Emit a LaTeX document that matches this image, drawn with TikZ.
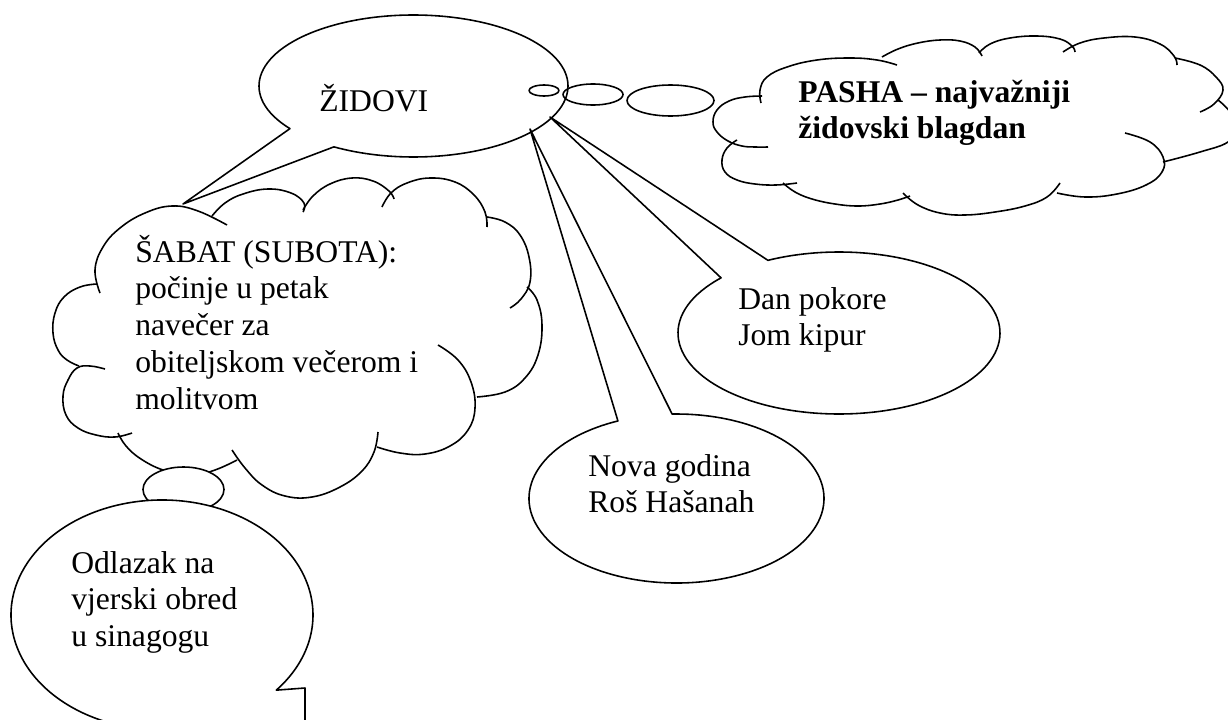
\documentclass[tikz,border=0pt]{standalone}
\usepackage{fontspec}
\setmainfont{Liberation Serif}
\newcommand{\mlines}[1]{\begin{tabular}[t]{@{}l@{}}#1\end{tabular}}
\begin{document}
\begin{tikzpicture}[x=0.02cm,y=-0.02cm,
  lineart/.style={line width=0.9pt,line join=round},
  bumpy/.style={lineart},
  txt/.style={anchor=base west,inner sep=0pt,font=\fontsize{18pt}{21.05pt}\selectfont},
  txtb/.style={anchor=base west,inner sep=0pt,font=\fontsize{18pt}{21.05pt}\selectfont\bfseries}]
\useasboundingbox (0,0) rectangle (1228,720);
\clip (0,0) rectangle (1228,720);

\coordinate (Zc) at (413.5,86);
\coordinate (Ztip) at (183,204);
\coordinate (A1) at (550,117);
\coordinate (A2) at (530,129);
\coordinate (Dc) at (839,333);
\coordinate (Nc) at (676.5,498.5);
\coordinate (Oc) at (162,615);
\coordinate (Ocorner) at (305,688);
\coordinate (Otip) at (305,800);
\coordinate (S) at (183.5,489.5);
\coordinate (t1) at (544,90.5);
\coordinate (t2) at (593,94.5);
\coordinate (t3) at (670.5,100.5);

% --- SABAT cloud ---
\draw[bumpy] plot[smooth,tension=0.7] coordinates {(100,293) (95,270) (103,247) (120,228) (145,213) (172,206) (198,211) (227,225)};
\draw[bumpy] plot[smooth,tension=0.7] coordinates {(212,216) (225,203) (243,194) (268,189) (291,193) (304,203) (303,212)};
\draw[bumpy] plot[smooth,tension=0.7] coordinates {(303,210) (313,196) (330,184) (352,178) (373,181) (389,191) (394,199)};
\draw[bumpy] plot[smooth,tension=0.7] coordinates {(382,207) (391,193) (407,183) (430,178) (455,182) (474,195) (485,212) (487,227)};
\draw[bumpy] plot[smooth,tension=0.7] coordinates {(487,217) (505,222) (520,235) (529,257) (530,282) (521,299) (510,308)};
\draw[bumpy] plot[smooth,tension=0.7] coordinates {(527,287) (537,300) (542,325) (538,355) (525,378) (505,392) (477,397)};
\draw[bumpy] plot[smooth,tension=0.7] coordinates {(438,345) (458,360) (471,382) (475,408) (468,430) (450,446) (425,454) (400,453) (377,447)};
\draw[bumpy] plot[smooth,tension=0.7] coordinates {(378,432) (374,452) (362,471) (340,487) (312,497) (285,496) (262,485) (245,468) (232,450)};
\draw[bumpy] plot[smooth,tension=0.7] coordinates {(118,433) (126,446) (141,459) (163,470) (190,476) (215,470) (237,460)};
\draw[bumpy] plot[smooth,tension=0.7] coordinates {(105,369) (90,366) (77,368) (68,380) (63,396) (66,415) (78,428) (96,435) (115,437) (132,433)};
\draw[bumpy] plot[smooth,tension=0.7] coordinates {(97,284) (80,287) (64,297) (55,313) (53,333) (58,350) (67,360) (79,366)};

% --- small bubble and Odlazak callout ---
\draw[lineart,fill=white] (S) ellipse[x radius=40.5,y radius=22.5];
\draw[lineart,fill=white] ([shift={(Oc)}]75:151 and 115) arc[start angle=75,end angle=400.8,x radius=151,y radius=115] -- (Ocorner) -- (Otip) -- cycle;

% --- PASHA cloud ---
\draw[bumpy] plot[smooth,tension=0.7] coordinates {(761,103) (760,90) (767,77) (787,67) (817,60) (850,58) (877,60) (897,65)};
\draw[bumpy] plot[smooth,tension=0.7] coordinates {(882,57) (898,49) (918,43) (940,40) (960,41) (975,47) (982,56)};
\draw[bumpy] plot[smooth,tension=0.7] coordinates {(979,53) (990,44) (1010,38) (1037,36) (1060,39) (1072,46) (1075,52)};
\draw[bumpy] plot[smooth,tension=0.7] coordinates {(1063,52) (1080,43) (1104,38) (1135,37) (1160,44) (1174,56) (1177,65)};
\draw[bumpy] plot[smooth,tension=0.7] coordinates {(1175,58) (1200,65) (1216,77) (1223,90) (1214,104) (1200,112)};
\draw[bumpy] plot[smooth,tension=0.7] coordinates {(1218,100) (1230,112) (1236,128) (1228,142) (1200,152) (1163,162)};
\draw[bumpy] plot[smooth,tension=0.7] coordinates {(1125,133) (1150,142) (1163,157) (1162,172) (1146,185) (1117,194) (1085,197) (1057,193)};
\draw[bumpy] plot[smooth,tension=0.7] coordinates {(903,193) (918,205) (940,213) (965,215) (995,212) (1025,206) (1047,197) (1060,183)};
\draw[bumpy] plot[smooth,tension=0.7] coordinates {(783,183) (795,192) (812,199) (835,204) (858,206) (880,204) (898,200) (910,196)};
\draw[bumpy] plot[smooth,tension=0.7] coordinates {(737,140) (727,148) (722,160) (725,172) (737,180) (755,184) (776,185) (797,183)};
\draw[bumpy] plot[smooth,tension=0.7] coordinates {(768,147) (755,147) (742,146) (728,141) (717,132) (713,122) (717,110) (729,101) (745,97) (762,96)};

% --- ZIDOVI callout ---
\draw[lineart] (Ztip) -- ([shift={(Zc)}]143.1:154.5 and 71) arc[start angle=143.1,end angle=481,x radius=154.5,y radius=71] -- cycle;

% --- thought ellipses ---
\draw[lineart] (t1) ellipse[x radius=15,y radius=5.5];
\draw[lineart] (t2) ellipse[x radius=30,y radius=10.5];
\draw[lineart] (t3) ellipse[x radius=43.5,y radius=15.5];

% --- Dan pokore and Nova godina callouts ---
\draw[lineart] (A1) -- ([shift={(Dc)}]222.9:161 and 81) arc[start angle=222.9,end angle=-116.2,x radius=161,y radius=81] -- cycle;
\draw[lineart] (A2) -- ([shift={(Nc)}]246.6:147.5 and 84.5) arc[start angle=246.6,end angle=-91.7,x radius=147.5,y radius=84.5] -- cycle;

% --- texts ---
\node[txt] (zidovi) at (319,111) {ŽIDOVI};
\node[txtb] (pasha) at (798,102) {\mlines{PASHA – najvažniji\\židovski blagdan}};
\node[txt] (sabat) at (135,262) {\mlines{ŠABAT (SUBOTA):\\počinje u petak\\navečer za\\obiteljskom večerom i\\molitvom}};
\node[txt] (dan) at (738,309) {\mlines{Dan pokore\\Jom kipur}};
\node[txt] (nova) at (588,476) {\mlines{Nova godina\\Roš Hašanah}};
\node[txt] (odlazak) at (71,573) {\mlines{Odlazak na\\vjerski obred\\u sinagogu}};
\end{tikzpicture}
\end{document}
